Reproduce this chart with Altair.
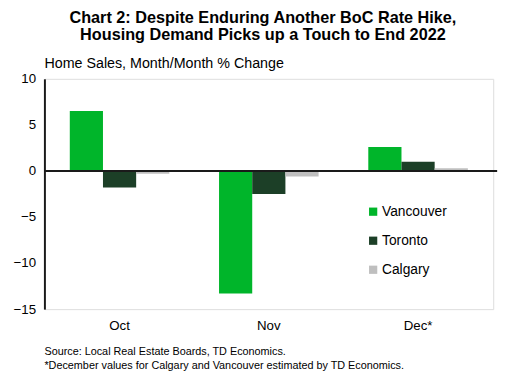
import altair as alt
import pandas as pd

months = ["Oct", "Nov", "Dec*"]
cities = ["Vancouver", "Toronto", "Calgary"]
vancouver = [6.5, -13.3, 2.6]
toronto = [-1.8, -2.5, 1.0]
calgary = [-0.3, -0.6, 0.3]
colors = ["#00B52A", "#1C3F27", "#BFBFBF"]

title_lines = ["Chart 2: Despite Enduring Another BoC Rate Hike,",
               "Housing Demand Picks up a Touch to End 2022"]
subtitle = "Home Sales, Month/Month  % Change"
notes = ["Source:  Local Real  Estate  Boards, TD  Economics.",
         "*December  values  for Calgary  and  Vancouver estimated  by TD  Economics."]

rows = []
for city, vals in zip(cities, [vancouver, toronto, calgary]):
    for m, v in zip(months, vals):
        rows.append({"Month": m, "City": city, "Value": v})
df = pd.DataFrame(rows)

W, H = 456, 234
FONT = "Liberation Sans"
yscale = alt.Scale(domain=[-15, 10], nice=False)

bars = alt.Chart(df).mark_bar().encode(
    x=alt.X("Month:N", sort=months, title=None,
            scale=alt.Scale(paddingInner=0.333, paddingOuter=0.17),
            axis=alt.Axis(labelAngle=0, domain=False, ticks=False, labelPadding=10,
                          labelFontSize=13.5, labelColor="#000", labelFont=FONT)),
    xOffset=alt.XOffset("City:N", sort=cities, scale=alt.Scale(paddingInner=0, paddingOuter=0)),
    y=alt.Y("Value:Q", title=None, scale=yscale,
            axis=alt.Axis(values=[-15, -10, -5, 0, 5, 10], grid=False, ticks=False,
                          domainColor="#1a1a1a", domainWidth=2, labelPadding=9,
                          labelFontSize=13.5, labelColor="#000", labelFont=FONT)),
    color=alt.Color("City:N", sort=cities,
                    scale=alt.Scale(domain=cities, range=colors),
                    legend=alt.Legend(title=None, orient="none", legendX=327, legendY=128,
                                      symbolType="square", symbolSize=70, symbolStrokeWidth=0,
                                      labelFontSize=14, labelFont=FONT, labelColor="#000",
                                      rowPadding=15.5, labelOffset=2)),
)

zero = alt.Chart(pd.DataFrame({"y": [0]})).mark_rule(color="#1a1a1a", strokeWidth=2).encode(
    y=alt.Y("y:Q", axis=None, scale=yscale), x=alt.value(0), x2=alt.value(W + 4))

tdf = pd.DataFrame({"t": title_lines, "yy": [-62, -44]})
title = alt.Chart(tdf).mark_text(font=FONT, fontSize=16.5, fontWeight="bold", align="center",
                                 baseline="middle", color="#000").encode(
    text="t:N", x=alt.value(222), y=alt.Y("yy:Q", scale=None))

sub = alt.Chart(pd.DataFrame({"t": [subtitle]})).mark_text(
    font=FONT, fontSize=14.5, align="left", baseline="middle", color="#000").encode(
    text="t:N", x=alt.value(0), y=alt.value(-15))

ndf = pd.DataFrame({"t": notes, "yy": [278, 292]})
foot = alt.Chart(ndf).mark_text(font=FONT, fontSize=11, align="left", baseline="middle",
                                color="#000").encode(
    text="t:N", x=alt.value(0), y=alt.Y("yy:Q", scale=None))

chart = alt.layer(bars, zero, title, sub, foot).resolve_scale(y="independent").properties(
    width=W, height=H,
    autosize=alt.AutoSizeParams(type="none"),
    padding={"left": 37, "top": 69, "right": 14, "bottom": 65},
).configure_view(stroke=None).configure(background="white")

chart.save("out.html", embed_options={"renderer": "svg", "actions": False})
